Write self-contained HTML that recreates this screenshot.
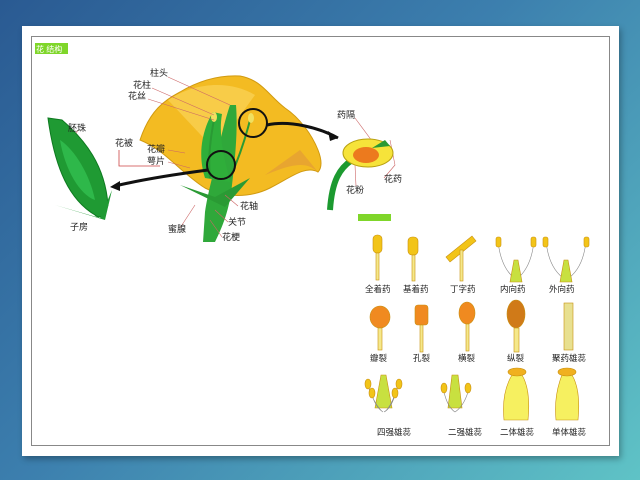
<!DOCTYPE html>
<html><head><meta charset="utf-8"><style>
body{margin:0;width:640px;height:480px;overflow:hidden;background:linear-gradient(135deg,#2a5a92 0%,#3c7fae 45%,#5fc3c6 100%);font-family:"Liberation Sans","Noto Sans CJK SC",sans-serif}
.card{position:absolute;left:22px;top:26px;width:597px;height:430px;background:#fff;box-shadow:2px 3px 6px rgba(0,0,0,.3)}
.in{position:absolute;left:9px;top:10px;width:577px;height:408px;border:1px solid #888}
</style></head><body>
<div class="card"><div class="in"></div></div>
<svg width="640" height="480" style="position:absolute;left:0;top:0" font-family="Liberation Sans,Noto Sans CJK SC,sans-serif" font-size="9" fill="#222">
<rect x="35" y="43" width="33" height="11" fill="#7fd62a"/><text x="36" y="52" font-size="8" fill="#fff">花 结构</text>
<!-- flower petals -->
<path d="M140,140 C150,110 165,100 180,92 C200,80 220,75 240,76 C262,80 268,95 285,108 C300,118 312,135 318,150 C322,160 322,168 318,172 C305,165 290,178 270,188 C250,198 225,198 205,188 C180,172 165,150 140,140Z" fill="#f3bb22" stroke="#d19a10"/>
<path d="M168,100 C195,82 230,80 255,95 L215,150Z" fill="#f8cc48"/>
<path d="M265,175 C290,165 305,160 318,172 L300,150Z" fill="#e8a530"/>
<!-- green stalk -->
<path d="M205,212 C208,192 212,180 216,160 C220,140 225,120 230,105 L236,105 C238,130 235,160 232,185 C230,205 225,222 215,242 L203,242Z" fill="#2fa83a"/>
<path d="M205,178 C196,150 205,125 213,112 L222,114 C218,137 225,160 230,182Z" fill="#2fae3a"/>
<path d="M180,185 L215,197 L250,178 L225,207Z" fill="#2a9a34"/>
<path d="M214,120 C210,140 208,160 210,178" stroke="#2a9a34" stroke-width="2" fill="none"/>
<path d="M250,120 C245,140 238,160 230,178" stroke="#2a9a34" stroke-width="2" fill="none"/>
<ellipse cx="214" cy="117" rx="3" ry="5" fill="#f0e060"/><ellipse cx="251" cy="118" rx="3" ry="5" fill="#f0e060"/>
<circle cx="221" cy="165" r="14" fill="none" stroke="#111" stroke-width="2"/>
<circle cx="253" cy="123" r="14" fill="none" stroke="#111" stroke-width="2"/>
<path d="M267,125 C290,120 320,128 338,138" stroke="#111" stroke-width="3" fill="none"/><path d="M338,138 l-10,-7 l2,10z" fill="#111"/>
<path d="M208,170 C170,175 140,180 115,186" stroke="#111" stroke-width="3" fill="none"/><path d="M110,187 l10,-6 l0,10z" fill="#111"/>
<!-- label lines -->
<g stroke="#c66" stroke-width=".6" fill="none">
<path d="M168,77 L230,105"/><path d="M152,88 L214,115"/><path d="M148,99 L214,120"/>
<path d="M168,150 L185,153"/><path d="M168,162 L190,168"/><path d="M180,228 L195,205"/><path d="M238,206 L225,195"/><path d="M228,222 L215,210"/><path d="M222,237 L210,220"/>
<path d="M355,118 L375,145"/><path d="M356,186 L355,165"/><path d="M384,178 L395,165 L390,140"/><path d="M78,130 L70,145"/>
</g>
<!-- ovary -->
<path d="M48,118 L62,120 C85,140 105,165 108,205 C105,215 100,220 95,215 C70,200 55,170 48,118Z" fill="#1f9a33" stroke="#0e7a20"/>
<path d="M60,140 C75,150 90,175 95,200 C80,195 65,170 60,140Z" fill="#2eb84a"/>
<path d="M55,205 L100,218 L112,190 L105,220Z" fill="#1f9a33"/>
<!-- anther -->
<path d="M330,210 C332,180 340,168 352,160" stroke="#1c9a30" stroke-width="6" fill="none"/>
<ellipse cx="368" cy="153" rx="25" ry="14" fill="#f6e33a" stroke="#b8a010"/>
<ellipse cx="366" cy="155" rx="13" ry="8" fill="#ec7a1e"/>
<path d="M372,148 L385,140 L390,146Z" fill="#2a9a34"/>
<g font-size="9">
<text x="150" y="76">柱头</text><text x="133" y="88">花柱</text><text x="128" y="99">花丝</text>
<text x="68" y="131">胚珠</text><text x="115" y="146">花被</text><text x="147" y="152">花瓣</text><text x="147" y="164">萼片</text>
<text x="70" y="230">子房</text><text x="168" y="232">蜜腺</text><text x="240" y="209">花轴</text><text x="228" y="225">关节</text><text x="222" y="240">花梗</text>
<text x="337" y="118">药隔</text><text x="346" y="193">花粉</text><text x="384" y="182">花药</text></g>
<path d="M119,150 V166 H160" stroke="#c44" fill="none" stroke-width=".8"/>
<rect x="358" y="214" width="33" height="7" fill="#7fd62a"/>
<!-- stamens grid -->
<g fill="#f2c418" stroke="#c89010" stroke-width=".6">
<rect x="373" y="235" width="9" height="18" rx="4"/><rect x="376" y="253" width="3" height="27" fill="#f5e88a"/>
<rect x="408" y="237" width="10" height="18" rx="4"/><rect x="412" y="255" width="3" height="26" fill="#f5e88a"/>
<path d="M446,257 L472,236 L476,241 L450,262Z"/><rect x="460" y="250" width="3" height="31" fill="#f5e88a"/>
<path d="M498,240 C500,265 510,275 516,280 C522,275 532,265 534,240" fill="none" stroke="#888"/><path d="M510,282 L522,282 L518,260 L514,260Z" fill="#c8e040"/>
<rect x="496" y="237" width="5" height="10" rx="2"/><rect x="531" y="237" width="5" height="10" rx="2"/>
<path d="M546,240 C548,265 558,275 566,280 C574,275 584,265 586,240" fill="none" stroke="#888"/><path d="M560,282 L572,282 L568,260 L564,260Z" fill="#c8e040"/>
<rect x="543" y="237" width="5" height="10" rx="2"/><rect x="584" y="237" width="5" height="10" rx="2"/>
<ellipse cx="380" cy="317" rx="10" ry="11" fill="#f08a20"/><rect x="378" y="328" width="4" height="22" fill="#f5e88a"/>
<rect x="415" y="305" width="13" height="20" rx="3" fill="#f08a20"/><rect x="420" y="325" width="3" height="27" fill="#f5e88a"/>
<ellipse cx="467" cy="313" rx="8" ry="11" fill="#f08a20"/><rect x="466" y="324" width="3" height="27" fill="#f5e88a"/>
<ellipse cx="516" cy="314" rx="9" ry="14" fill="#d07a18"/><rect x="514" y="328" width="5" height="24" fill="#f5e88a"/>
<rect x="564" y="303" width="9" height="47" fill="#e8e090"/>
<path d="M375,408 L392,408 L386,375 L381,375Z" fill="#c8e040"/>
<path d="M372,395 C375,405 380,410 383,412 M368,385 C372,400 380,410 383,412 M395,395 C392,405 388,410 384,412 M398,385 C394,400 388,410 384,412" fill="none" stroke="#888"/>
<ellipse cx="372" cy="393" rx="3" ry="5"/><ellipse cx="368" cy="384" rx="3" ry="5"/><ellipse cx="395" cy="393" rx="3" ry="5"/><ellipse cx="399" cy="384" rx="3" ry="5"/>
<path d="M448,408 L462,408 L458,375 L452,375Z" fill="#c8e040"/>
<path d="M444,392 C447,405 452,410 455,412 M468,392 C464,405 458,410 455,412" fill="none" stroke="#888"/>
<ellipse cx="444" cy="388" rx="3" ry="5"/><ellipse cx="468" cy="388" rx="3" ry="5"/>
<path d="M504,420 C502,400 506,385 512,375 L522,375 C528,385 530,400 528,420Z" fill="#f6f060"/>
<path d="M556,420 C554,400 558,385 562,375 L572,375 C578,385 580,400 578,420Z" fill="#f6f060"/>
<ellipse cx="517" cy="372" rx="9" ry="4" fill="#f0b020"/><ellipse cx="567" cy="372" rx="9" ry="4" fill="#f0b020"/>
</g>
<g font-size="8.5">
<text x="365" y="292">全着药</text><text x="403" y="292">基着药</text><text x="450" y="292">丁字药</text><text x="500" y="292">内向药</text><text x="549" y="292">外向药</text>
<text x="370" y="361">瓣裂</text><text x="413" y="361">孔裂</text><text x="458" y="361">横裂</text><text x="507" y="361">纵裂</text><text x="552" y="361">聚药雄蕊</text>
<text x="377" y="435">四强雄蕊</text><text x="448" y="435">二强雄蕊</text><text x="500" y="435">二体雄蕊</text><text x="552" y="435">单体雄蕊</text></g>
</svg>
</body></html>
